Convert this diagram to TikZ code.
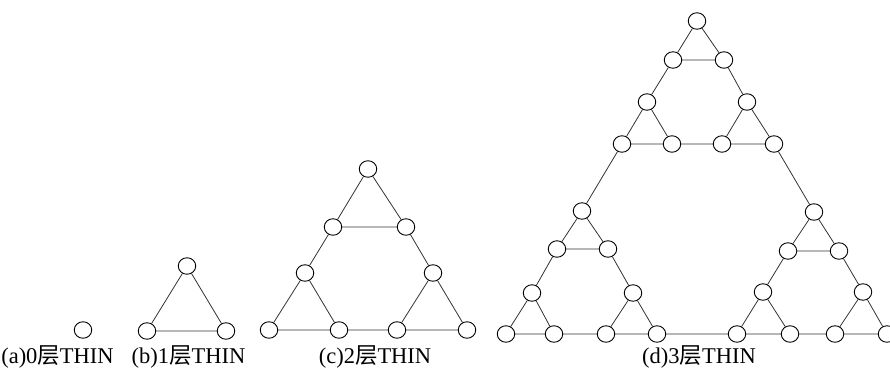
\documentclass[tikz,border=0pt]{standalone}
\usepackage{fontspec}
\setmainfont{Liberation Serif}
\newfontfamily\cjk{Noto Sans CJK SC}
\usetikzlibrary{shapes.geometric}
\pgfdeclarelayer{bg}
\pgfsetlayers{bg,main}
\tikzset{
  vtx/.style={ellipse,draw=black,line width=0.9pt,fill=white,minimum width=17.5pt,minimum height=16.5pt,inner sep=0pt},
  edge/.style={draw=black!80,line width=0.8pt},
  lbl/.style={font=\fontsize{22.5}{22.5}\selectfont,inner sep=0pt,anchor=center}
}
\begin{document}
\begin{tikzpicture}[x=1pt,y=-1pt]
\useasboundingbox (0,0) rectangle (890,385);
% (a)
\node[vtx] (a1) at (83,330) {};
% (b)
\node[vtx] (b1) at (187,266) {};
\node[vtx] (b2) at (147,331) {};
\node[vtx] (b3) at (226,331) {};
% (c)
\foreach \n/\x/\y in {1/368/169,2/333/227,3/406/227,4/305/273,5/433/273,6/269/330,7/339/330,8/397/330,9/467/330}
  \node[vtx] (c\n) at (\x,\y) {};
% (d) top
\foreach \n/\x/\y in {1/697/21,2/673/60,3/724/60,4/647/102,5/747/102,6/622/144,7/672/144,8/722/144,9/774/144}
  \node[vtx] (t\n) at (\x,\y) {};
% (d) bottom left
\foreach \n/\x/\y in {1/582/211,2/557/249,3/608/249,4/532/293,5/633/293,6/506/334,7/554/334,8/606/334,9/657/334}
  \node[vtx] (l\n) at (\x,\y) {};
% (d) bottom right
\foreach \n/\x/\y in {1/814/212,2/788/251,3/839/251,4/763/292,5/863/292,6/737/334,7/790/334,8/835/334,9/887/334}
  \node[vtx] (r\n) at (\x,\y) {};
\begin{pgfonlayer}{bg}
\draw[edge] (b1)--(b2) (b1)--(b3) (b2)--(b3);
\foreach \g in {c,t,l,r}{
  \draw[edge] (\g1)--(\g2) (\g1)--(\g3) (\g2)--(\g3)
              (\g2)--(\g4) (\g3)--(\g5)
              (\g4)--(\g6) (\g4)--(\g7) (\g6)--(\g7)
              (\g5)--(\g8) (\g5)--(\g9) (\g8)--(\g9)
              (\g7)--(\g8);
}
\draw[edge] (t6)--(l1) (t9)--(r1) (l9)--(r6);
\end{pgfonlayer}
% labels
\node[lbl] (la) at (57.5,357) {(a)0{\cjk 层}THIN};
\node[lbl] (lb) at (188.5,357) {(b)1{\cjk 层}THIN};
\node[lbl] (lc) at (375,357) {(c)2{\cjk 层}THIN};
\node[lbl] (ld) at (699,357) {(d)3{\cjk 层}THIN};
\end{tikzpicture}
\end{document}
